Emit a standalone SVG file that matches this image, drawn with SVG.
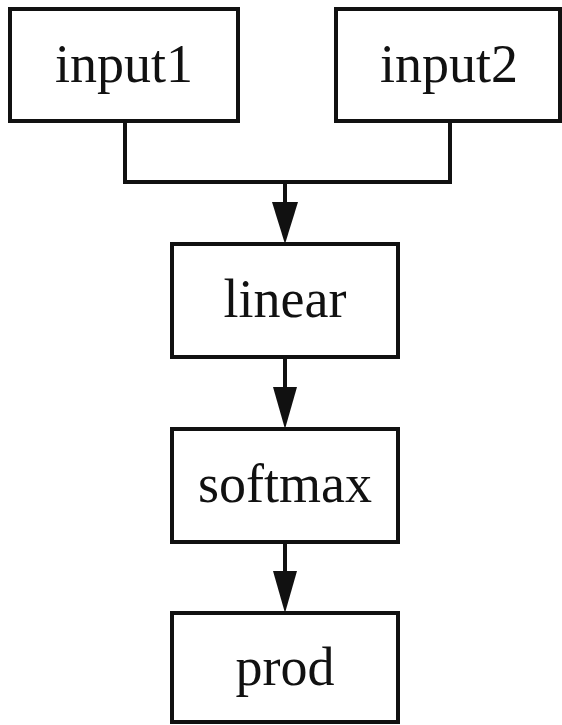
<svg xmlns="http://www.w3.org/2000/svg" width="562" height="725" viewBox="0 0 562 725">
<style>
.box{fill:#fff;stroke:#111;stroke-width:4}
.lbl{font-family:"Liberation Serif","Times New Roman",serif;font-size:54px;fill:#111;text-anchor:middle}
.edge{fill:none;stroke:#111;stroke-width:4}
.head{fill:#111}
</style>
<rect width="562" height="725" fill="#fff"/>
<g id="connectors">
<path class="edge" d="M125,121 V182 H450 V121"/>
<path class="edge" d="M285,182 V210"/>
<polygon class="head" points="272,202 298,202 285,244"/>
<path class="edge" d="M285,357 V392"/>
<polygon class="head" points="273,387 297,387 285,429"/>
<path class="edge" d="M285,542 V575"/>
<polygon class="head" points="273,571 297,571 285,613"/>
</g>
<g id="input1"><rect class="box" x="10" y="9" width="228" height="112"/><text class="lbl" x="124" y="82">input1</text></g>
<g id="input2"><rect class="box" x="336" y="9" width="224" height="112"/><text class="lbl" x="449" y="82">input2</text></g>
<g id="linear"><rect class="box" x="172" y="244" width="226" height="113"/><text class="lbl" x="285" y="317">linear</text></g>
<g id="softmax"><rect class="box" x="172" y="429" width="226" height="113"/><text class="lbl" x="285" y="502">softmax</text></g>
<g id="prod"><rect class="box" x="172" y="613" width="226" height="109"/><text class="lbl" x="285" y="685">prod</text></g>
</svg>
